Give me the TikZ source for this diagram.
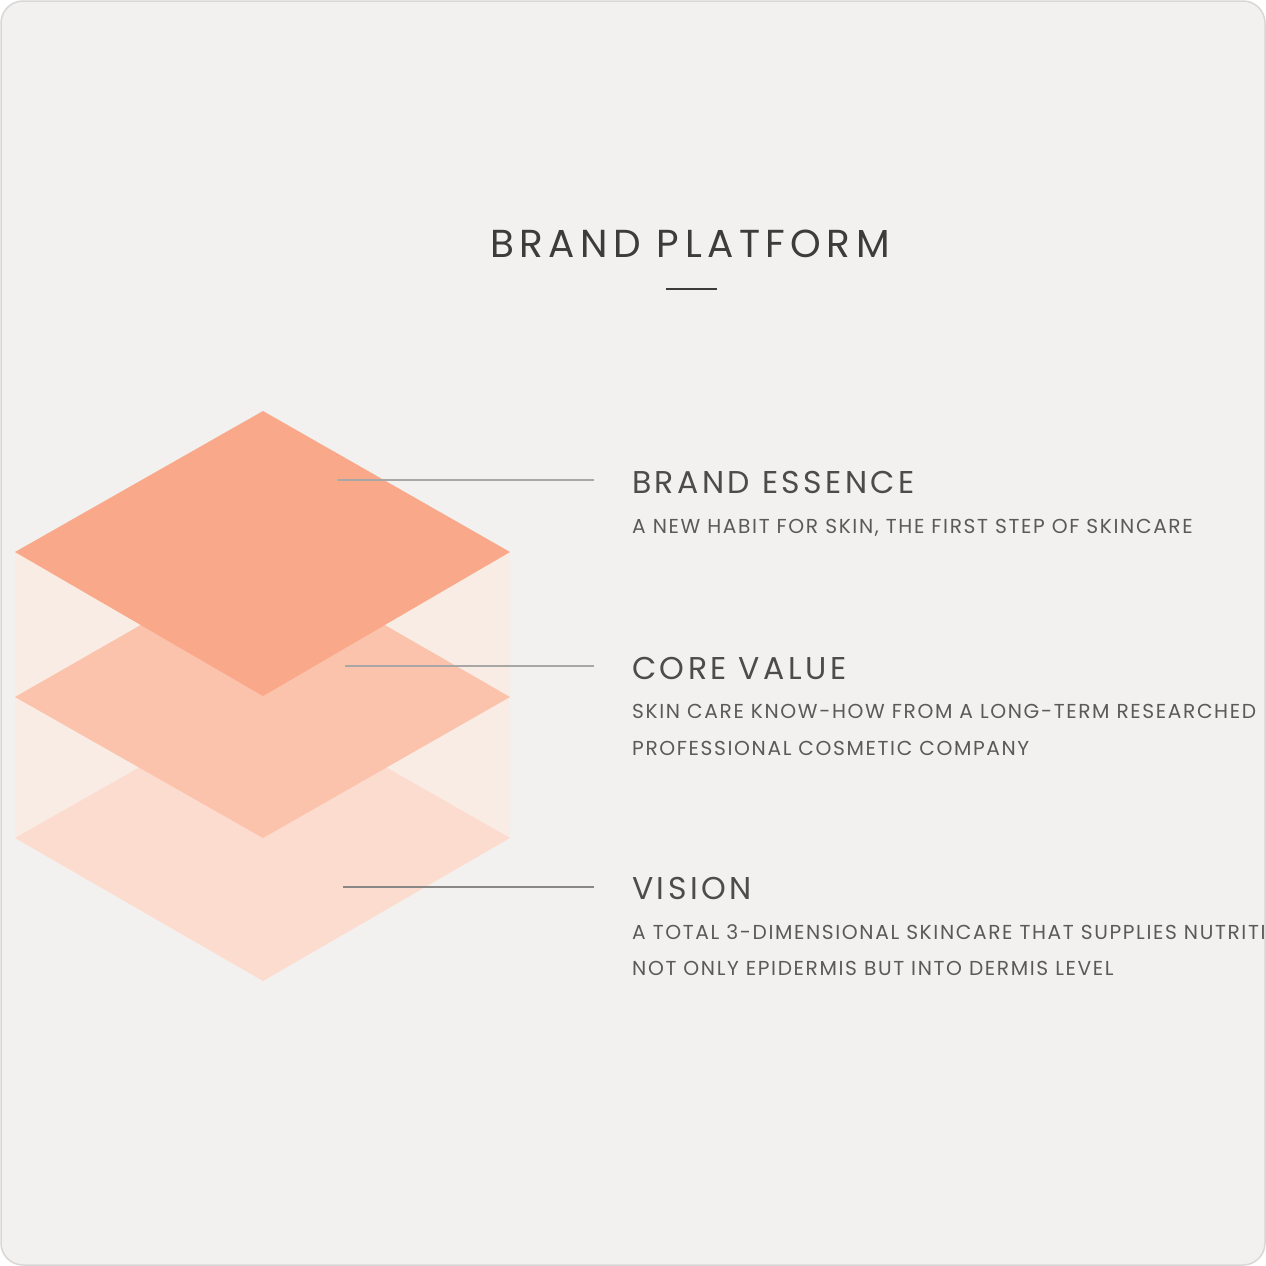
\documentclass[tikz,border=0pt]{standalone}
\usepackage{fontspec}
\setmainfont{Poppins}
\newfontfamily\titlefont{Poppins}[LetterSpace=14]
\newfontfamily\headfont{Poppins}[LetterSpace=11]
\newfontfamily\bodyfont{Poppins}[LetterSpace=8]
\usepackage{xcolor}
\usetikzlibrary{positioning}

\definecolor{paper}{HTML}{F3F1EF}
\definecolor{rim}{HTML}{D9D7D5}
\definecolor{ink}{HTML}{3E3C3A}
\definecolor{inksoft}{HTML}{4E4C4A}
\definecolor{inkbody}{HTML}{5C5A58}
\definecolor{layertop}{HTML}{F9A88A}
\definecolor{layermid}{HTML}{FBC2AC}
\definecolor{layerlow}{HTML}{FDDCD0}
\definecolor{layerhaze}{HTML}{F9ECE5}
\definecolor{pin}{HTML}{A9A7A5}
\definecolor{pindark}{HTML}{8A8886}

\begin{document}
\begin{tikzpicture}[x=1pt, y=-1pt,
        title/.style={font=\titlefont\fontsize{39}{39}\selectfont, text=ink, inner sep=0pt, anchor=base},
        head/.style={font=\headfont\fontsize{31.5}{31.5}\selectfont, text=inksoft, inner sep=0pt, anchor=base west},
        body/.style={font=\bodyfont\fontsize{20.2}{20.2}\selectfont, text=inkbody, inner sep=0pt, anchor=base west},
        leader/.style={draw=pin, line width=1.6pt},
        layer/.style={draw=none}
    ]
        \useasboundingbox (0,0) rectangle (1266,1266);
        \fill[paper, rounded corners=22pt] (1,1) rectangle (1265,1265);
        \begin{scope}
        \clip[rounded corners=22pt] (1,1) rectangle (1265,1265);

        % Title
        \node[title] (heading) at (690,257) {BRAND PLATFORM};
        \draw[ink, line width=1.6pt] (666,289) -- (717,289);

        % Layers (bottom to top)
        \fill[layerhaze] (15,552) rectangle (510,838);
        \fill[layer, layerlow] (263,697) -- (510,838) -- (263,981) -- (15,838) -- cycle;
        \fill[layer, layermid] (263,555) -- (510,697) -- (263,838) -- (15,697) -- cycle;
        \fill[layer, layertop] (263,411) -- (510,552) -- (263,696) -- (15,552) -- cycle;

        % Texts
        \node[head] (essence) at (632,493) {BRAND ESSENCE};
        \node[body] (essence-a) at (632,533) {A NEW HABIT FOR SKIN, THE FIRST STEP OF SKINCARE};

        \node[head] (core) at (632,679) {CORE VALUE};
        \node[body] (core-a) at (632,718) {SKIN CARE KNOW-HOW FROM A LONG-TERM RESEARCHED};
        \node[body] (core-b) at (632,755) {PROFESSIONAL COSMETIC COMPANY};

        \node[head] (vision) at (632,899) {VISION};
        \node[body] (vision-a) at (632,939) {A TOTAL 3-DIMENSIONAL SKINCARE THAT SUPPLIES NUTRITIO};
        \node[body] (vision-b) at (632,975) {NOT ONLY EPIDERMIS BUT INTO DERMIS LEVEL};

        % Leaders
        \coordinate (essence-pin) at (338,480);
        \coordinate (essence-end) at (594,480);
        \coordinate (core-pin) at (345,666);
        \coordinate (core-end) at (594,666);
        \coordinate (vision-pin) at (343,887);
        \coordinate (vision-end) at (594,887);
        \draw[leader] (essence-pin) -- (essence-end);
        \draw[leader] (core-pin) -- (core-end);
        \draw[leader, draw=pindark] (vision-pin) -- (vision-end);
        \end{scope}

        \draw[rim, line width=1.5pt, rounded corners=22pt] (1,1) rectangle (1265,1265);
    \end{tikzpicture}
\end{document}
